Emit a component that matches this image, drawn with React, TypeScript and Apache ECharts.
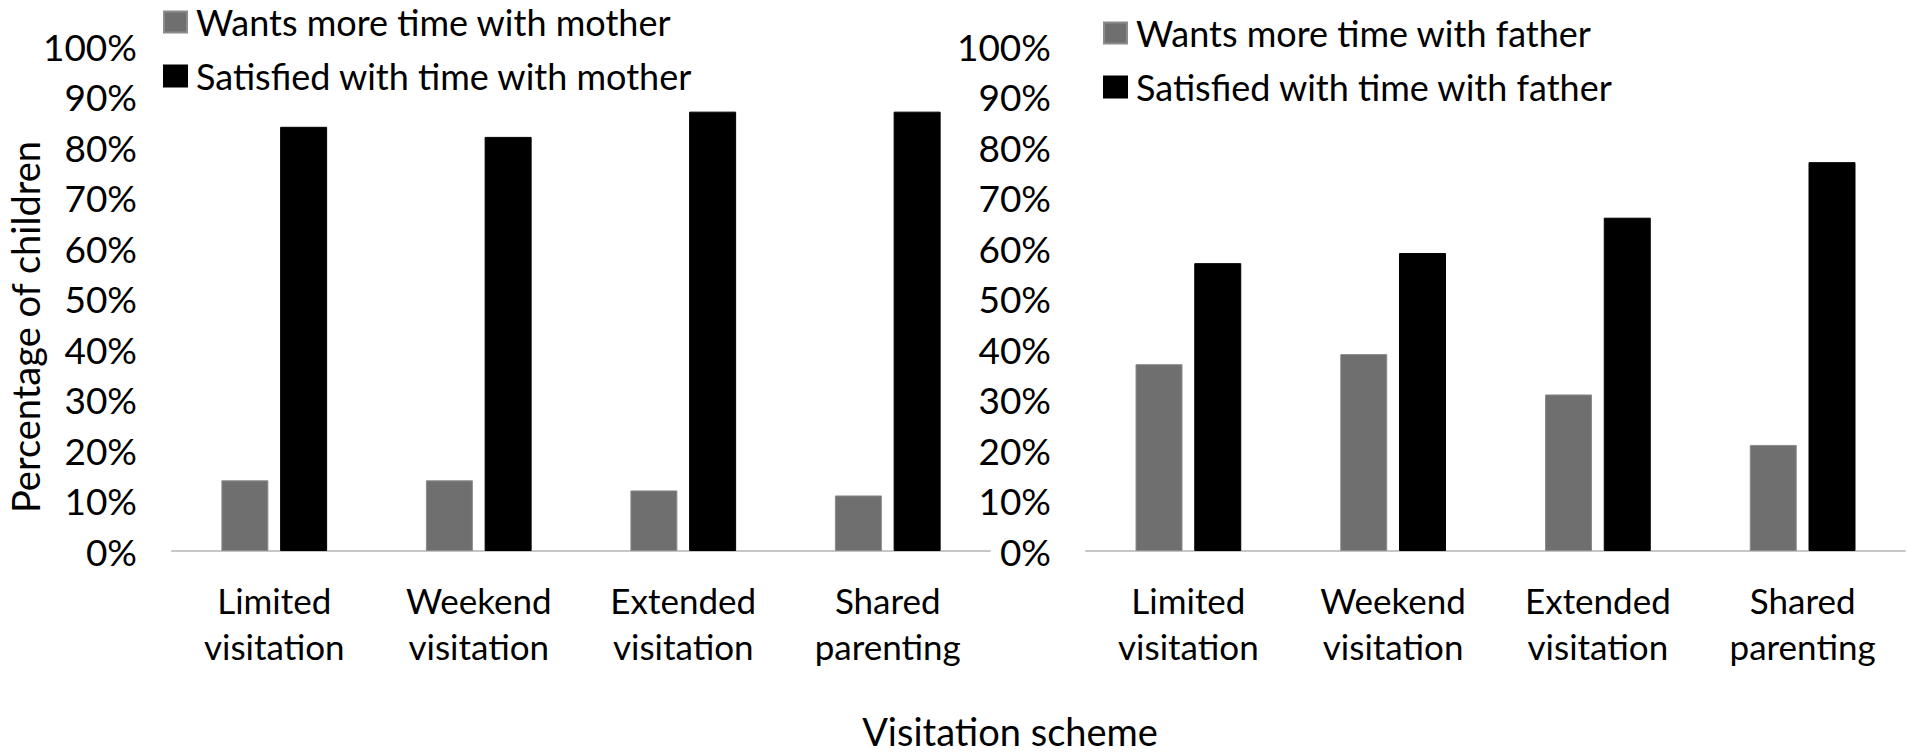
import React, { useEffect, useRef } from "react";
import * as echarts from "echarts";

const categories = ["Limited\nvisitation", "Weekend\nvisitation", "Extended\nvisitation", "Shared\nparenting"];
const yTicks = [0, 10, 20, 30, 40, 50, 60, 70, 80, 90, 100];

const motherWants = [14, 14, 12, 11];
const motherSatisfied = [84, 82, 87, 87];
const fatherWants = [37, 39, 31, 21];
const fatherSatisfied = [57, 59, 66, 77];

const seriesNames = {
  mw: "Wants more time with mother",
  ms: "Satisfied with time with mother",
  fw: "Wants more time with father",
  fs: "Satisfied with time with father",
};

const FONT = "Lato, 'Open Sans', sans-serif";
const FS = 35;
const FS_LEGEND = 36;
const FS_TICK = 37;
const FS_TITLE = 38;
const GRAY = "#6f6f6f";

export default function App() {
  const ref = useRef<HTMLDivElement>(null);
  useEffect(() => {
    document.body.style.margin = "0";
    const chart = echarts.init(ref.current!, null, { renderer: "svg" });
    const xAxisBase = {
      type: "category",
      data: categories,
      axisTick: { show: false },
      axisLine: { lineStyle: { color: "#c6c6c6", width: 2 } },
      axisLabel: { color: "#000", fontSize: FS, fontFamily: FONT, lineHeight: 46, margin: 26, interval: 0 },
    };
    const yAxisBase = {
      type: "value",
      min: yTicks[0],
      max: yTicks[yTicks.length - 1],
      interval: 10,
      splitLine: { show: false },
      axisLine: { show: false },
      axisTick: { show: false },
      axisLabel: { color: "#000", fontSize: FS_TICK, fontFamily: FONT, margin: 35, formatter: "{value}%" },
    };
    const grayStyle = { color: GRAY, borderColor: "#8c8c8c", borderWidth: 1 };
    const blackStyle = { color: "#000", borderColor: "#000", borderWidth: 1 };
    const legendBase = {
      orient: "vertical",
      icon: "rect",
      padding: 0,
      itemWidth: 23,
      itemHeight: 21,
      itemGap: 18,
      textStyle: { color: "#000", fontSize: FS_LEGEND, fontFamily: FONT, padding: [0, 0, 0, 4] },
    };
    chart.setOption({
      animation: false,
      backgroundColor: "#fff",
      grid: [
        { left: 172, top: 46, width: 818, height: 505 },
        { left: 1086, top: 46, width: 819, height: 505 },
      ],
      xAxis: [
        { ...xAxisBase, gridIndex: 0 },
        { ...xAxisBase, gridIndex: 1 },
      ],
      yAxis: [
        { ...yAxisBase, gridIndex: 0 },
        { ...yAxisBase, gridIndex: 1 },
      ],
      legend: [
        { ...legendBase, left: 163, top: 4, data: [seriesNames.mw, seriesNames.ms] },
        { ...legendBase, left: 1103, top: 15, data: [seriesNames.fw, seriesNames.fs] },
      ],
      series: [
        { name: seriesNames.mw, type: "bar", xAxisIndex: 0, yAxisIndex: 0, data: motherWants, barWidth: 47, barGap: "25%", itemStyle: grayStyle },
        { name: seriesNames.ms, type: "bar", xAxisIndex: 0, yAxisIndex: 0, data: motherSatisfied, barWidth: 47, barGap: "25%", itemStyle: blackStyle },
        { name: seriesNames.fw, type: "bar", xAxisIndex: 1, yAxisIndex: 1, data: fatherWants, barWidth: 47, barGap: "25%", itemStyle: grayStyle },
        { name: seriesNames.fs, type: "bar", xAxisIndex: 1, yAxisIndex: 1, data: fatherSatisfied, barWidth: 47, barGap: "25%", itemStyle: blackStyle },
      ],
      graphic: [
        {
          type: "text",
          x: 25,
          y: 327,
          rotation: Math.PI / 2,
          style: { text: "Percentage of children", fontSize: FS_TITLE, fontFamily: FONT, fill: "#000", align: "center", verticalAlign: "middle" },
        },
        {
          type: "text",
          x: 1010,
          y: 731,
          style: { text: "Visitation scheme", fontSize: FS_TITLE, fontFamily: FONT, fill: "#000", align: "center", verticalAlign: "middle" },
        },
      ],
    });
    return () => chart.dispose();
  }, []);
  return <div ref={ref} style={{ width: 1907, height: 755 }} />;
}
